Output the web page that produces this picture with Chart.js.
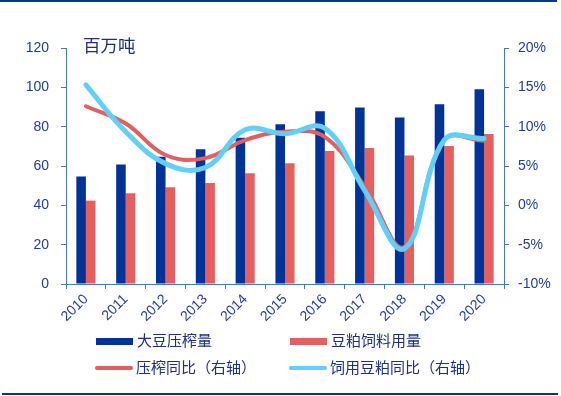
<!DOCTYPE html>
<html><head><meta charset="utf-8">
<script src="https://cdn.jsdelivr.net/npm/chart.js@4"></script>
<style>
html,body{margin:0;padding:0;background:#fff;}
#wrap{position:relative;width:561px;height:396px;overflow:hidden;font-family:"Liberation Sans","Noto Sans CJK SC",sans-serif;}
canvas{position:absolute;left:0;top:0;}
.topline{position:absolute;left:0;top:0;width:557px;height:2px;background:#0B3391;}
.botline{position:absolute;left:2px;top:393px;width:556px;height:2px;background:#0B3391;}
.title{position:absolute;left:83px;top:34px;font-size:17.5px;color:#1E2F7E;font-family:"Noto Sans CJK SC",sans-serif;line-height:22px;}
.lg{position:absolute;font-size:15px;color:#1E2F7E;font-family:"Noto Sans CJK SC",sans-serif;line-height:20px;}
.sw{position:absolute;}
</style></head>
<body><div id="wrap">
<canvas id="c" width="561" height="396"></canvas>
<div class="topline"></div><div class="botline"></div>
<div class="title">百万吨</div>
<div id="legend"></div>
</div>
<script>
const years = ['2010','2011','2012','2013','2014','2015','2016','2017','2018','2019','2020'];
const crushVolume = [54.6, 60.8, 64.7, 68.5, 74.4, 81.2, 87.9, 89.8, 84.7, 91.4, 99.0];
const mealFeedUse = [42.4, 46.1, 49.2, 51.3, 56.3, 61.4, 67.6, 69.1, 65.4, 70.2, 76.3];
const crushYoY = [12.6, 10.4, 6.4, 6.0, 8.3, 9.35, 8.7, 2.4, -5.3, 8.3, 8.2];
const mealYoY = [15.3, 9.35, 5.3, 4.8, 9.6, 9.1, 9.8, 1.9, -5.5, 8.3, 8.5];
const leftTicks = [0, 20, 40, 60, 80, 100, 120];
const rightTicks = [-10, -5, 0, 5, 10, 15, 20];
const names = ['大豆压榨量','豆粕饲料用量','压榨同比（右轴）','饲用豆粕同比（右轴）'];

const C_BLUE = '#003397', C_RED = '#E65F5F', C_CYAN = '#62CFF8', C_REDL = '#E35E5E';
const AXIS = '#4A74C9', TXT = '#213C94';
const font = {family:'"Liberation Sans","Noto Sans CJK SC",sans-serif', size:14};

new Chart(document.getElementById('c'), {
  type:'bar',
  data:{
    labels: years,
    datasets:[
      {label:names[0], data:crushVolume, yAxisID:'y', backgroundColor:C_BLUE, categoryPercentage:0.48, barPercentage:1, order:2},
      {label:names[1], data:mealFeedUse, yAxisID:'y', backgroundColor:C_RED, categoryPercentage:0.48, barPercentage:1, order:2},
      {type:'line', label:names[2], data:crushYoY, yAxisID:'y1', borderColor:C_REDL, borderWidth:4, tension:0.4, pointRadius:0, fill:false, order:1, borderCapStyle:'round'},
      {type:'line', label:names[3], data:mealYoY, yAxisID:'y1', borderColor:C_CYAN, borderWidth:5, tension:0.4, pointRadius:0, fill:false, order:0, borderCapStyle:'round'}
    ]
  },
  options:{
    responsive:false, animation:false, devicePixelRatio:1,
    layout:{padding:{left:0,right:0,top:48,bottom:0}},
    plugins:{legend:{display:false}, tooltip:{enabled:false}},
    scales:{
      x:{
        grid:{display:true, drawOnChartArea:false, drawTicks:true, tickLength:5, color:AXIS, offset:true},
        border:{display:true, color:AXIS, width:1},
        ticks:{color:TXT, font:font, maxRotation:45, minRotation:45, padding:2, autoSkip:false},
        afterFit(s){ s.height = 112; }
      },
      y:{
        position:'left', min:0, max:120,
        afterBuildTicks(s){ s.ticks = leftTicks.map(v=>({value:v})); },
        grid:{display:true, drawOnChartArea:false, drawTicks:true, tickLength:5, color:AXIS},
        border:{display:true, color:AXIS, width:1},
        ticks:{color:TXT, font:font, padding:12},
        afterFit(s){ s.width = 66; }
      },
      y1:{
        position:'right', min:-10, max:20,
        afterBuildTicks(s){ s.ticks = rightTicks.map(v=>({value:v})); },
        grid:{display:true, drawOnChartArea:false, drawTicks:true, tickLength:5, color:AXIS},
        border:{display:true, color:AXIS, width:1},
        ticks:{color:TXT, font:font, padding:9, callback:v=>v+'%'},
        afterFit(s){ s.width = 57; }
      }
    }
  }
});

// legend (HTML)
const lg = document.getElementById('legend');
const items = [
  {name:names[0], x:96, y:341, color:C_BLUE, kind:'box'},
  {name:names[1], x:290, y:341, color:C_RED, kind:'box'},
  {name:names[2], x:95, y:368, color:C_REDL, kind:'line'},
  {name:names[3], x:289, y:368, color:C_CYAN, kind:'line'}
];
items.forEach(it=>{
  const sw = document.createElement('div');
  sw.className='sw';
  if(it.kind==='box'){
    sw.style.cssText=`left:${it.x}px;top:${it.y-3}px;width:37px;height:7px;background:${it.color};`;
  } else {
    sw.style.cssText=`left:${it.x}px;top:${it.y-2}px;width:38px;height:4px;border-radius:2px;background:${it.color};`;
  }
  lg.appendChild(sw);
  const t = document.createElement('div');
  t.className='lg'; t.textContent=it.name;
  t.style.left=(it.x+41)+'px'; t.style.top=(it.y-11)+'px';
  lg.appendChild(t);
});
</script>
</body></html>
